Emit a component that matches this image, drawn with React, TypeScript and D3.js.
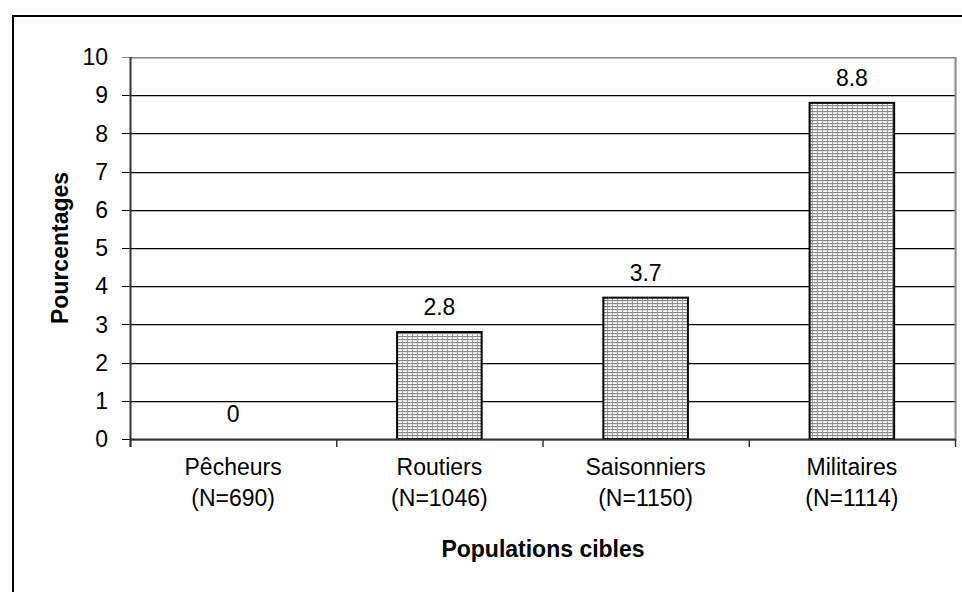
import React from "react";
import * as d3 from "d3";

const categories = ["Pêcheurs", "Routiers", "Saisonniers", "Militaires"];
const sampleSizes = ["(N=690)", "(N=1046)", "(N=1150)", "(N=1114)"];
const values = [0, 2.8, 3.7, 8.8];
const yTicks = [0, 1, 2, 3, 4, 5, 6, 7, 8, 9, 10];

const W = 962;
const H = 592;
const plot = { left: 130, right: 955, top: 57, bottom: 439 };
const font = "'Liberation Sans', Arial, sans-serif";
const FS = 23;

export default function App() {
  const x = d3
    .scaleBand<string>()
    .domain(categories)
    .range([plot.left, plot.right])
    .paddingInner(0.59)
    .paddingOuter(0.295);
  const xb = d3.scaleBand<string>().domain(categories).range([plot.left, plot.right]);
  const y = d3.scaleLinear().domain([0, 10]).range([plot.bottom, plot.top]);

  const boundaries = [...categories.map((c) => xb(c)!), plot.right];

  return (
    <svg
      width={W}
      height={H}
      style={{ position: "absolute", left: 0, top: 0, background: "#fff" }}
      fontFamily={font}
    >
      <defs>
        <pattern id="hatch" width="5" height="3" patternUnits="userSpaceOnUse">
          <rect width="5" height="3" fill="#fff" />
          <rect y="0" width="5" height="1.2" fill="#888" />
          <rect x="2" y="1.2" width="1" height="1.8" fill="#999" />
        </pattern>
      </defs>
      {/* outer frame */}
      <rect x={13} y={16} width={W + 20} height={H + 20} fill="none" stroke="#000" strokeWidth={2} />

      {/* gridlines */}
      {yTicks.map((t) => (
        <g key={t}>
          <line
            x1={plot.left}
            x2={plot.right}
            y1={Math.round(y(t)) + 1.5}
            y2={Math.round(y(t)) + 1.5}
            stroke="#bbb"
            strokeWidth={1}
          />
          <line
            x1={plot.left - 8}
            x2={plot.right}
            y1={Math.round(y(t)) + 0.5}
            y2={Math.round(y(t)) + 0.5}
            stroke={t === 10 ? "#888" : "#000"}
            strokeWidth={1}
          />
          <text x={108} y={y(t)} dy="0.36em" textAnchor="end" fontSize={FS} fill="#000">
            {t}
          </text>
        </g>
      ))}
      {/* right plot border */}
      <line x1={plot.right + 0.5} x2={plot.right + 0.5} y1={plot.top} y2={plot.bottom + 2} stroke="#888" strokeWidth={2} />

      {/* bars */}
      {categories.map((c, i) =>
        values[i] > 0 ? (
          <rect
            key={c}
            x={x(c)!}
            y={y(values[i])}
            width={x.bandwidth()}
            height={y(0) - y(values[i])}
            fill="url(#hatch)"
            stroke="#000"
            strokeWidth={2}
          />
        ) : null
      )}

      {/* value labels */}
      {categories.map((c, i) => (
        <text
          key={c}
          x={x(c)! + x.bandwidth() / 2}
          y={y(values[i]) - 17}
          textAnchor="middle"
          fontSize={FS}
          fill="#000"
        >
          {values[i]}
        </text>
      ))}

      {/* axes */}
      <line x1={plot.left + 0.5} x2={plot.left + 0.5} y1={plot.top} y2={plot.bottom + 8} stroke="#333" strokeWidth={2} />
      <line x1={plot.left} x2={plot.right} y1={plot.bottom + 0.5} y2={plot.bottom + 0.5} stroke="#333" strokeWidth={2} />
      {boundaries.map((b, i) => (
        <line key={i} x1={b + 0.5} x2={b + 0.5} y1={plot.bottom} y2={plot.bottom + 8} stroke="#333" strokeWidth={1.5} />
      ))}

      {/* category labels */}
      {categories.map((c, i) => (
        <g key={c}>
          <text x={xb(c)! + xb.bandwidth() / 2} y={475} textAnchor="middle" fontSize={FS}>
            {c}
          </text>
          <text x={xb(c)! + xb.bandwidth() / 2} y={506} textAnchor="middle" fontSize={FS}>
            {sampleSizes[i]}
          </text>
        </g>
      ))}

      {/* axis titles */}
      <text x={543} y={557} textAnchor="middle" fontSize={FS} fontWeight="bold">
        Populations cibles
      </text>
      <text transform={`translate(68,248) rotate(-90)`} textAnchor="middle" fontSize={FS} fontWeight="bold">
        Pourcentages
      </text>
    </svg>
  );
}
